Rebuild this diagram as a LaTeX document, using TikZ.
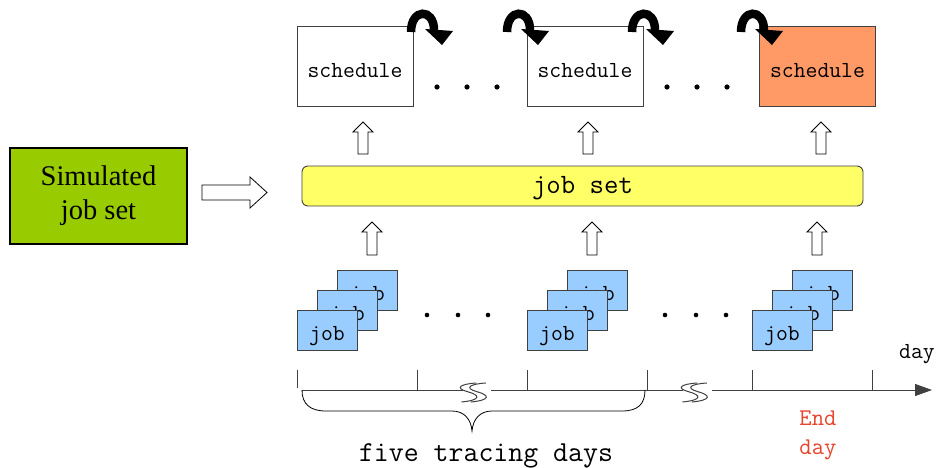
\documentclass[tikz,border=0pt]{standalone}
\usepackage{fontspec}
\setmainfont{Liberation Serif}
\setmonofont{Latin Modern Mono}
\usetikzlibrary{arrows.meta}

\definecolor{simgreen}{HTML}{99CC00}
\definecolor{setyellow}{HTML}{FFFF66}
\definecolor{lastorange}{HTML}{FF9966}
\definecolor{jobblue}{HTML}{99CCFF}
\definecolor{endred}{HTML}{E8432B}
\definecolor{edge}{HTML}{404040}

\tikzset{
  schedbox/.style={draw=edge, line width=0.9pt, minimum width=116pt, minimum height=80pt,
    inner sep=0pt, text height=23pt, text depth=0pt, font=\ttfamily\fontsize{23}{27}\selectfont},
  jobbox/.style={draw=edge, line width=0.9pt, fill=jobblue, minimum width=60pt, minimum height=40pt,
    inner sep=0pt, text height=24pt, text depth=4pt, font=\ttfamily\fontsize{23}{27}\selectfont},
  hollow/.style={draw=black, fill=white, line width=0.8pt, line join=miter},
  axisline/.style={draw=edge, line width=0.9pt},
  dotmark/.style={fill=black},
  lbl/.style={inner sep=0pt, font=\ttfamily\fontsize{23}{27}\selectfont},
  turn/.style={draw=black, line width=8.5pt},
  squiggle/.style={draw=edge, line width=1pt},
}

% upward hollow block arrow: centre x, tip y, bottom y
\newcommand\uparr[3]{%
  \path[hollow] (#1-5,#3) -- (#1-5,#2+10) -- (#1-10,#2+10) -- (#1,#2) --
    (#1+10,#2+10) -- (#1+5,#2+10) -- (#1+5,#3) -- cycle;}

% thick curved arrow over a box corner, left foot at x
\newcommand\turnarr[1]{%
  \begin{scope}[shift={(#1,0)}]
    \draw[turn] (4,32) .. controls (4,8) and (27,8) .. (27,30);
    \fill (18,29) -- (46,31) -- (35,45) -- cycle;
  \end{scope}}

% axis break mark centred at x: two stretched S strokes
\newcommand\breakmark[1]{%
  \begin{scope}[shift={(#1,0)}, xscale=1.35]
    \foreach \d in {-3.5,3.5} {
      \draw[squiggle, shift={(\d,0)}] (3,383) .. controls (-9,384) and (-13,388) .. (-4,391.5)
        .. controls (6,395) and (7,400) .. (-8,402);
    }
  \end{scope}}

\begin{document}
\begin{tikzpicture}[x=1pt, y=-1pt]
\useasboundingbox (0,0) rectangle (936,468);

% source box and its arrow
\node[draw=black, line width=1.2pt, fill=simgreen, minimum width=177pt, minimum height=96pt,
  inner sep=0pt, align=center, font=\fontsize{28.5}{34}\selectfont] (sim) at (98.5,196) {Simulated\\job set};
\path[hollow] (202,185) -- (250,185) -- (250,177) -- (267,192.5) -- (250,208) -- (250,200) -- (202,200) -- cycle;

% job set bar
\node[draw=edge, line width=0.9pt, fill=setyellow, rounded corners=6pt, minimum width=561pt,
  minimum height=40pt, inner sep=0pt, text height=19pt, text depth=5pt,
  font=\ttfamily\fontsize{28}{32}\selectfont] (set) at (582.5,186) {job set};

% schedules
\node[schedbox] (s1) at (355,66) {schedule};
\node[schedbox] (s2) at (585,66) {schedule};
\node[schedbox, fill=lastorange] (s3) at (817.5,66) {schedule};

\turnarr{407}
\turnarr{503}
\turnarr{628}
\turnarr{737}

\foreach \x in {437,467,497,667,697,727} \fill[dotmark] (\x,87) circle (2.6);

% arrows job set -> schedules
\uparr{363}{122}{154}
\uparr{588}{122}{154}
\uparr{821}{122}{154}

% arrows jobs -> job set
\uparr{372}{222}{255}
\uparr{592}{222}{255}
\uparr{817}{222}{255}

% job stacks (back to front)
\foreach \n/\x in {a/297, b/527, c/752} {
  \node[jobbox] (\n3) at (\x+70,290) {job};
  \node[jobbox] (\n2) at (\x+50,310) {job};
  \node[jobbox] (\n1) at (\x+30,330) {job};
}

\foreach \x in {427,458,488,665,696,726} \fill[dotmark] (\x,315) circle (2.3);

% time axis
\coordinate (t0) at (302,390);
\coordinate (tend) at (932,390);
\draw[axisline] (297,370) -- (297,388);
\foreach \x in {417,527,647,752,872} \draw[axisline] (\x,370) -- (\x,390);
\draw[axisline] (t0) -- (463,390);
\draw[axisline] (491,390) -- (683,390);
\draw[axisline, -{Triangle[length=17pt,width=12pt]}] (712,390) -- (tend);
\breakmark{477}
\breakmark{698}

% brace over the first five days
\draw[black, line width=0.8pt] (t0) .. controls (302,404) and (310,411) .. (326,411)
  -- (452,411) .. controls (464,411) and (471,419) .. (472,431)
  .. controls (473,419) and (480,411) .. (492,411)
  -- (622,411) .. controls (638,411) and (645,404) .. (645,390);

\node[lbl] (daylbl) at (917,354) {day};
\node[lbl, text=endred, align=center, font=\ttfamily\fontsize{24}{29}\selectfont] (endlbl) at (818,435) {End\\day};
\node[lbl, font=\ttfamily\fontsize{29}{32}\selectfont] (five) at (486,456) {five tracing days};
\end{tikzpicture}
\end{document}
